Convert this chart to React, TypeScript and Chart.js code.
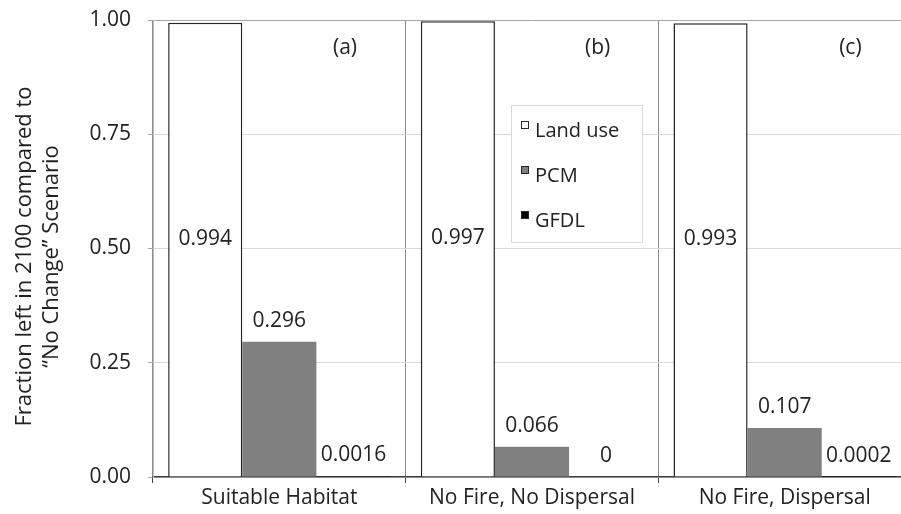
import React, { useEffect, useRef } from "react";
import { Chart, registerables } from "chart.js";

Chart.register(...registerables);

const categories = ["Suitable Habitat", "No Fire, No Dispersal", "No Fire, Dispersal"];
const seriesNames = ["Land use", "PCM", "GFDL"];
const landUse = [0.994, 0.997, 0.993];
const pcm = [0.296, 0.066, 0.107];
const gfdl = [0.0016, 0, 0.0002];
const panelLabels = ["(a)", "(b)", "(c)"];
const yTitle = ["Fraction left in 2100 compared to", "\u201CNo Change\u201D Scenario"];

const FONT = '"Open Sans", sans-serif';
const TEXT = "#222222";

const overlayPlugin = {
  id: "overlay",
  afterDatasetsDraw(chart: any) {
    const { ctx, chartArea } = chart;
    ctx.save();
    ctx.font = `21px ${FONT}`;
    ctx.fillStyle = TEXT;
    ctx.textAlign = "center";
    ctx.textBaseline = "middle";
    chart.data.datasets.forEach((ds: any, di: number) => {
      const meta = chart.getDatasetMeta(di);
      meta.data.forEach((bar: any, i: number) => {
        const v = ds.data[i];
        const { x, y, base } = bar.getProps(["x", "y", "base"], true);
        const ty = di === 0 ? (y + base) / 2 - 11 : y - 21;
        ctx.fillText(String(v), x, ty);
      });
    });
    const w = (chartArea.right - chartArea.left) / categories.length;
    panelLabels.forEach((t, i) => {
      ctx.fillText(t, chartArea.left + w * (i + 0.76), chartArea.top + 28);
    });
    ctx.restore();
  },
  afterDraw(chart: any) {
    const { ctx, chartArea } = chart;
    // y-axis title
    ctx.save();
    ctx.font = `22px ${FONT}`;
    ctx.fillStyle = TEXT;
    ctx.textAlign = "center";
    ctx.textBaseline = "middle";
    const cy0 = (chartArea.top + chartArea.bottom) / 2 + 8;
    yTitle.forEach((line, i) => {
      ctx.save();
      ctx.translate(25 + i * 27, cy0);
      ctx.rotate(-Math.PI / 2);
      ctx.fillText(line, 0, 0);
      ctx.restore();
    });
    ctx.restore();

    // legend
    const left = chartArea.left + 358;
    const top = chartArea.top + 85;
    const bw = 131;
    const bh = 137;
    ctx.save();
    ctx.fillStyle = "#ffffff";
    ctx.fillRect(left, top, bw, bh);
    ctx.strokeStyle = "#d9d9d9";
    ctx.lineWidth = 1;
    ctx.strokeRect(left + 0.5, top + 0.5, bw, bh);
    ctx.font = `20px ${FONT}`;
    ctx.textAlign = "left";
    ctx.textBaseline = "middle";
    chart.data.datasets.forEach((ds: any, i: number) => {
      const cy = top + 26 + i * 45;
      ctx.fillStyle = ds.backgroundColor;
      ctx.fillRect(left + 10, cy - 10, 8, 8);
      ctx.strokeStyle = "#262626";
      ctx.lineWidth = 1;
      ctx.strokeRect(left + 10.5, cy - 9.5, 7, 7);
      ctx.fillStyle = TEXT;
      ctx.fillText(ds.label, left + 24, cy);
    });
    ctx.restore();
  },
};

export default function App() {
  const ref = useRef<HTMLCanvasElement | null>(null);
  useEffect(() => {
    if (!ref.current) return;
    const chart = new Chart(ref.current, {
      type: "bar",
      data: {
        labels: categories,
        datasets: [
          {
            label: seriesNames[0],
            data: landUse,
            backgroundColor: "#ffffff",
            borderColor: "#262626",
            borderWidth: 1.5,
          },
          {
            label: seriesNames[1],
            data: pcm,
            backgroundColor: "#808080",
            borderWidth: 0,
          },
          {
            label: seriesNames[2],
            data: gfdl,
            backgroundColor: "#000000",
            borderColor: "#000000",
            borderWidth: 0,
          },
        ],
      },
      options: {
        responsive: false,
        animation: false,
        devicePixelRatio: 1,
        layout: { padding: { top: 20, right: 0, left: 0, bottom: 0 } },
        datasets: { bar: { barPercentage: 1, categoryPercentage: 0.88 } },
        plugins: { legend: { display: false }, tooltip: { enabled: false } },
        scales: {
          x: {
            afterFit(scale: any) {
              scale.height = 37;
            },
            grid: {
              offset: true,
              color: "#8c8c8c",
              lineWidth: 1,
              tickLength: 6,
              tickColor: "#404040",
            },
            border: { color: "#404040", width: 1.5 },
            ticks: { color: TEXT, font: { family: FONT, size: 21 }, padding: 2 },
          },
          y: {
            min: 0,
            max: 1,
            afterFit(scale: any) {
              scale.width = 153;
              scale.paddingTop = 0;
              scale.paddingBottom = 0;
            },
            ticks: {
              stepSize: 0.25,
              color: TEXT,
              font: { family: FONT, size: 21 },
              padding: 17,
              callback: (v: any) => Number(v).toFixed(2),
            },
            grid: {
              color: (c: any) => (c.tick && c.tick.value === 1 ? "#a6a6a6" : "#d9d9d9"),
              tickLength: 5,
              tickColor: "#a6a6a6",
            },
            border: { color: "#bfbfbf", width: 1 },
          },
        },
      },
      plugins: [overlayPlugin],
    });
    return () => chart.destroy();
  }, []);
  return (
    <div style={{ position: "fixed", left: 0, top: 0, width: 901, height: 514, overflow: "hidden", background: "#fff" }}>
      <canvas ref={ref} width={911} height={514} style={{ display: "block" }} />
    </div>
  );
}
